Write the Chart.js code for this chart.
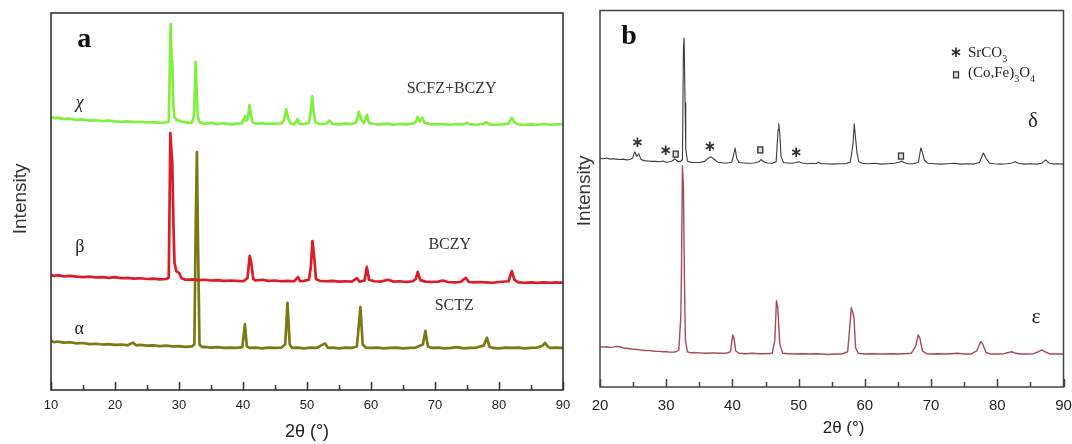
<!DOCTYPE html>
<html><head><meta charset="utf-8">
<script src="https://cdn.jsdelivr.net/npm/chart.js@4.4.0/dist/chart.umd.min.js"></script>
<style>
html,body{margin:0;padding:0;background:#fff;width:1072px;height:444px;overflow:hidden}
#ca{position:absolute;left:0;top:0}
#cb{position:absolute;left:570px;top:0}
</style></head><body>
<canvas id="ca" width="570" height="444"></canvas>
<canvas id="cb" width="502" height="444"></canvas>
<script>
// ---------- DATA (2θ in degrees, intensity in arbitrary offset units) ----------
const seriesNamesA = ['SCFZ+BCZY', 'BCZY', 'SCTZ'];
const seriesSymbolsA = ['χ', 'β', 'α'];
const seriesSymbolsB = ['δ', 'ε'];
const legendB = ['SrCO3', '(Co,Fe)3O4'];

const chiData = [[10,726],[10.5,722],[11,724],[12,720],[13,721],[14,718],[15,719],[16,716],[17,717],[18,715],[19,716],[20,714],[21,713],[22,714],[23,712],[24,713],[25,711],[26,712],[27,710],[28,711],[28.4,714],[28.7,971],[28.85,860],[28.95,873],[29.1,760],[29.3,725],[29.6,718],[30,716],[30.5,713],[31,712],[31.5,710],[32,711],[32.3,725],[32.45,781],[32.6,871],[32.75,800],[32.9,730],[33.2,712],[34,708],[35,710],[36,707],[37,709],[38,706],[39,708],[39.8,709],[40.2,722],[40.35,728],[40.5,715],[40.8,725],[41.0,757],[41.2,735],[41.5,712],[42,708],[43,709],[44,707],[45,708],[46,709],[46.4,716],[46.75,746],[47.1,720],[47.5,708],[48,706],[48.5,720],[48.8,707],[49.5,707],[50.3,710],[50.6,740],[50.8,780],[51.0,745],[51.3,712],[52,707],[53,708],[53.5,716],[54,707],[55,706],[56,708],[57,707],[57.7,712],[58.1,739],[58.5,718],[58.9,710],[59.35,731],[59.7,710],[60.5,707],[61.5,706],[62.5,708],[63.5,705],[64.5,707],[65.5,706],[66.5,708],[67.0,712],[67.3,726],[67.6,714],[68.0,724],[68.4,710],[69.5,706],[70.5,707],[71.5,706],[72.5,705],[73.5,707],[74.5,706],[75,710],[75.5,706],[76.5,705],[77.5,707],[78,712],[78.5,706],[79.5,705],[80.5,706],[81.5,708],[82,724],[82.4,712],[83,706],[84,705],[85,706],[86,705],[87,707],[88,705],[89,706],[90,707]];

const betaData = [[10,309],[10.5,306],[11,308],[12,305],[13,306],[14,304],[15,303],[16,304],[17,302],[18,303],[19,301],[20,303],[21,300],[22,301],[23,299],[24,300],[25,298],[26,299],[27,297],[28,298],[28.4,302],[28.65,683],[28.8,640],[28.95,604],[29.15,430],[29.3,340],[29.6,318],[30.0,314],[30.4,300],[31,296],[32,297],[33,295],[34,296],[35,294],[36,295],[37,293],[38,294],[39,293],[40,292],[40.7,300],[41.05,359],[41.3,340],[41.6,298],[42,294],[43,296],[44,293],[45,294],[46,292],[47,293],[48,292],[48.6,303],[48.9,292],[49.5,293],[50.3,296],[50.6,330],[50.85,398],[51.1,360],[51.4,298],[52,293],[53,292],[54,293],[55,291],[56,292],[57,291],[57.8,300],[58.2,291],[59,294],[59.35,330],[59.7,296],[60.5,292],[61.5,291],[62.7,296],[63.5,291],[64.5,292],[65.5,290],[66.5,292],[67.0,298],[67.3,317],[67.7,295],[68.5,291],[69.5,290],[70.5,291],[71.2,294],[72,290],[73,289],[74,290],[74.8,301],[75.3,290],[76,289],[77,290],[78,289],[79,288],[80,290],[81.5,292],[82,319],[82.4,296],[83,289],[84,288],[85,289],[86,288],[87,289],[88,288],[89,289],[90,288]];

const alphaData = [[10,135],[10.5,131],[11,133],[12,130],[13,131],[14,128],[15,129],[16,126],[17,127],[18,125],[19,126],[20,124],[21,125],[22,123],[22.8,130],[23.3,123],[24,124],[25,122],[26,123],[27,121],[28,122],[29,120],[30,121],[31,119],[32,120],[32.4,125],[32.6,420],[32.8,633],[32.95,420],[33.2,125],[33.6,118],[34,119],[35,117],[36,118],[37,116],[38,117],[39,116],[39.9,118],[40.3,179],[40.6,120],[41,116],[42,117],[43,115],[44,117],[45,116],[46,117],[46.6,125],[46.95,235],[47.3,125],[47.7,116],[48.5,117],[49.5,115],[50.5,117],[51.5,116],[52.8,128],[53.3,116],[54,117],[55,115],[56,117],[57,116],[57.8,120],[58.35,224],[58.7,125],[59.2,117],[60,116],[61,117],[62,115],[63,116],[64,117],[65,115],[66,116],[67,117],[68.1,125],[68.5,161],[68.9,120],[69.5,116],[70.5,117],[71.5,115],[72.5,116],[73.5,118],[74.5,115],[75.5,116],[76.5,117],[77.6,122],[78.1,143],[78.5,120],[79,116],[80,115],[81,117],[82,116],[83,117],[84,115],[85,116],[86,117],[86.8,122],[87.2,129],[87.6,120],[88,116],[89,117],[90,116]];

const deltaData = [[20,615],[20.5,614],[21,616],[21.5,613],[22,614],[22.5,613],[23,612],[23.5,613],[24,611],[24.5,612],[24.9,615],[25.25,632],[25.55,620],[25.85,627],[26.2,612],[26.7,609],[27.2,608],[27.8,607],[28.4,607],[29,606],[29.5,608],[30,605],[30.5,606],[30.9,608],[31.3,614],[31.7,607],[32.1,606],[32.45,612],[32.6,900],[32.7,930],[32.85,760],[32.95,640],[33.2,608],[33.6,605],[34.2,604],[35,604],[35.8,607],[36.4,616],[36.8,619],[37.3,612],[37.8,605],[38.5,603],[39.2,603],[39.9,605],[40.2,625],[40.4,642],[40.65,615],[41,604],[41.7,603],[42.5,602],[43.3,603],[44,606],[44.3,612],[44.7,606],[45.3,603],[46,602],[46.6,606],[46.9,690],[47.0,705],[47.15,681],[47.35,620],[47.7,604],[48.3,603],[49,602],[49.6,604],[50,606],[50.5,603],[51.3,601],[52,602],[52.6,601],[53,605],[53.4,601],[54.2,601],[55,600],[56,601],[57,601],[57.8,605],[58.2,650],[58.4,705],[58.55,676],[58.8,630],[59.1,606],[59.6,602],[60.5,601],[61.5,602],[62.5,600],[63.5,601],[64.5,602],[65.2,605],[65.5,608],[65.9,604],[66.5,601],[67.3,601],[68.1,605],[68.45,642],[68.7,630],[69,610],[69.5,602],[70.5,601],[71.5,600],[72.5,601],[73.5,602],[74.5,600],[75.5,601],[76.5,600],[77.3,604],[77.9,629],[78.3,615],[78.8,603],[79.5,601],[80.5,600],[81.5,601],[82.2,603],[82.7,606],[83.2,602],[84,600],[85,601],[86,600],[86.8,603],[87.3,611],[87.8,603],[88.5,600],[89.2,601],[90,600]];

const epsData = [[20,123],[20.5,122],[21,123],[21.5,121],[22,122],[22.5,124],[23,123],[23.5,120],[24,119],[24.5,118],[25,117],[25.5,116],[26,115],[26.5,114],[27,113],[27.5,113],[28,112],[28.5,111],[29,111],[29.5,110],[30,110],[30.5,109],[31,109],[31.5,110],[31.9,114],[32.2,200],[32.3,316],[32.45,595],[32.6,540],[32.75,300],[32.9,140],[33.2,110],[33.7,107],[34.2,108],[35,107],[36,106],[37,107],[38,106],[39,106],[39.7,110],[40.05,154],[40.2,148],[40.5,112],[41,106],[42,105],[43,106],[44,105],[45,105],[46,106],[46.4,140],[46.65,243],[46.85,225],[47.15,130],[47.6,106],[48.5,105],[49.5,104],[50.5,105],[51.5,104],[52.5,105],[53.5,104],[54.5,103],[55.5,104],[56.5,104],[57.4,110],[57.8,190],[57.95,225],[58.15,214],[58.35,200],[58.6,120],[59,106],[60,104],[61,105],[62,104],[63,104],[64,105],[65,104],[66,105],[67,106],[67.7,125],[68.05,154],[68.3,146],[68.7,112],[69.3,105],[70,104],[71,105],[72,104],[73,105],[74,106],[75,104],[76,104],[76.9,112],[77.5,137],[77.8,130],[78.3,108],[79,104],[80,104],[81,105],[81.7,108],[82.2,110],[82.8,106],[83.5,104],[84.5,104],[85.5,105],[86.2,110],[86.7,115],[87.2,110],[88,104],[89,104],[90,104]];

// phase markers in panel b: [2θ, height]
const srco3Marks = [[25.65,655],[29.92,634],[36.61,645],[49.65,629]];
const spinelMarks = [[31.43,626],[44.21,637],[65.46,621]];

// ---------- helpers ----------
const toXY = arr => arr.map(p => ({x: p[0], y: p[1]}));
const SANS = 'Liberation Sans';

function drawRich(ctx, parts, x, y) {
  let cx = x;
  parts.forEach(p => {
    ctx.font = p.font;
    ctx.textAlign = 'left';
    ctx.textBaseline = 'middle';
    ctx.fillText(p.t, cx, y + (p.dy || 0));
    cx += ctx.measureText(p.t).width;
  });
}

function decoPlugin(cfg) {
  return {
    id: 'deco',
    afterDatasetsDraw(chart) {
      const ctx = chart.ctx, a = chart.chartArea, xs = chart.scales.x, ys = chart.scales.y;
      ctx.save();
      ctx.strokeStyle = cfg.frameColor;
      ctx.lineWidth = cfg.tickWidth;
      xs.ticks.forEach(t => {
        const px = Math.round(xs.getPixelForValue(t.value)) + 0.5;
        const len = (t.value % 10 === 0) ? cfg.major : cfg.minor;
        ctx.beginPath(); ctx.moveTo(px, a.bottom); ctx.lineTo(px, a.bottom - len); ctx.stroke();
      });
      ctx.lineWidth = cfg.frameWidth;
      ctx.strokeRect(a.left, a.top, a.right - a.left, a.bottom - a.top);
      cfg.texts.forEach(t => {
        ctx.fillStyle = t.color || '#222';
        ctx.font = t.font;
        ctx.textAlign = 'center';
        ctx.textBaseline = 'middle';
        ctx.fillText(t.text, xs.getPixelForValue(t.x), ys.getPixelForValue(t.y));
      });
      (cfg.rich || []).forEach(r => {
        ctx.fillStyle = r.color || '#222';
        drawRich(ctx, r.parts, xs.getPixelForValue(r.x), ys.getPixelForValue(r.y));
      });
      (cfg.stars || []).forEach(s => {
        ctx.fillStyle = '#333';
        ctx.font = 'bold 15px "DejaVu Sans"';
        ctx.textAlign = 'center'; ctx.textBaseline = 'middle';
        ctx.fillText('∗', xs.getPixelForValue(s[0]), ys.getPixelForValue(s[1]));
      });
      (cfg.squares || []).forEach(s => {
        const px = xs.getPixelForValue(s[0]), py = ys.getPixelForValue(s[1]);
        ctx.fillStyle = '#ddd'; ctx.strokeStyle = '#333'; ctx.lineWidth = 1.3;
        ctx.fillRect(px - 2.5, py - 3, 5, 6);
        ctx.strokeRect(px - 2.5, py - 3, 5, 6);
      });
      ctx.restore();
    }
  };
}

function makeChart(id, o) {
  return new Chart(document.getElementById(id), {
    type: 'line',
    data: { datasets: o.datasets.map(d => ({
      data: toXY(d.data), borderColor: d.color, borderWidth: d.width,
      pointRadius: 0, tension: 0, fill: false, borderJoinStyle: 'round'
    })) },
    options: {
      responsive: false, animation: false, events: [],
      layout: { padding: o.padding },
      plugins: { legend: { display: false }, tooltip: { enabled: false } },
      scales: {
        x: {
          type: 'linear', min: o.xmin, max: 90,
          ticks: { stepSize: 5, autoSkip: false, maxRotation: 0, color: '#222',
                   font: { family: SANS, size: o.tickSize }, padding: o.tickPad,
                   callback: v => (v % 10 === 0 ? String(v) : '') },
          grid: { display: false, drawTicks: false },
          border: { display: false },
          title: { display: true, text: o.xTitle, color: '#222',
                   font: { family: SANS, size: o.xTitleSize }, padding: { top: 0, bottom: o.xTitlePad } },
          afterFit(s) { s.height = o.xHeight; s.paddingLeft = 0; s.paddingRight = 0; }
        },
        y: {
          min: o.ymin, max: o.ymax,
          ticks: { display: false },
          grid: { display: false, drawTicks: false },
          border: { display: false },
          title: { display: true, text: o.yTitle, color: '#333',
                   font: { family: SANS, size: 19 }, padding: { top: o.yTitlePad, bottom: 0 } },
          afterFit(s) { s.width = o.yWidth; s.paddingTop = 0; s.paddingBottom = 0; }
        }
      }
    },
    plugins: [decoPlugin(o.deco)]
  });
}

// ---------- panel a ----------
makeChart('ca', {
  xmin: 10, ymin: 5, ymax: 1000,
  padding: { left: 0, top: 13, right: 7, bottom: 0 },
  xHeight: 54, yWidth: 51, tickSize: 13, tickPad: 8, xTitle: '2θ (°)', xTitleSize: 18, xTitlePad: 1,
  yTitle: '\u00a0Intensity', yTitlePad: 9.5,
  datasets: [
    { data: chiData, color: '#80f03c', width: 2.7 },
    { data: betaData, color: '#dc1c26', width: 2.7 },
    { data: alphaData, color: '#7a7a14', width: 2.7 }
  ],
  deco: {
    frameColor: '#333', frameWidth: 1.6, tickWidth: 1.5, major: 8, minor: 5,
    texts: [
      { text: 'a', x: 15.2, y: 929, font: 'bold 28px "Liberation Serif"', color: '#111' },
      { text: seriesSymbolsA[0], x: 14.5, y: 762, font: 'italic 18px "Liberation Serif"' },
      { text: seriesSymbolsA[1], x: 14.5, y: 382, font: '18px "Liberation Serif"' },
      { text: seriesSymbolsA[2], x: 14.4, y: 166, font: '18px "Liberation Serif"' },
      { text: seriesNamesA[0], x: 72.6, y: 801, font: '16px "Liberation Serif"', color: '#333' },
      { text: seriesNamesA[1], x: 72.3, y: 388, font: '16px "Liberation Serif"', color: '#333' },
      { text: seriesNamesA[2], x: 73.0, y: 227, font: '16px "Liberation Serif"', color: '#333' }
    ]
  }
});

// ---------- panel b ----------
makeChart('cb', {
  xmin: 20, ymin: 18, ymax: 1001,
  padding: { left: 0, top: 10.5, right: 8.5, bottom: 0 },
  xHeight: 57, yWidth: 30, tickSize: 15, tickPad: 10,
  xTitle: '\u00a0\u00a0\u00a0\u00a0\u00a02θ (°)', xTitleSize: 17, xTitlePad: 5,
  yTitle: '\u00a0\u00a0\u00a0Intensity', yTitlePad: 3.5,
  datasets: [
    { data: deltaData, color: '#3a3a3a', width: 1.1 },
    { data: epsData, color: '#a84a58', width: 1.4 }
  ],
  deco: {
    frameColor: '#444', frameWidth: 1.5, tickWidth: 1.5, major: 8, minor: 5,
    texts: [
      { text: 'b', x: 24.4, y: 933, font: 'bold 28px "Liberation Serif"', color: '#111' },
      { text: seriesSymbolsB[0], x: 85.4, y: 710, font: '21px "Liberation Serif"' },
      { text: seriesSymbolsB[1], x: 85.85, y: 201, font: '22px "Liberation Serif"' }
    ],
    rich: [
      { x: 75.58, y: 890, parts: [
        { t: 'SrCO', font: '15px "Liberation Serif"' },
        { t: '3', font: '10px "Liberation Serif"', dy: 6 } ] },
      { x: 75.58, y: 838, parts: [
        { t: '(Co,Fe)', font: '15px "Liberation Serif"' },
        { t: '3', font: '10px "Liberation Serif"', dy: 6 },
        { t: 'O', font: '15px "Liberation Serif"' },
        { t: '4', font: '10px "Liberation Serif"', dy: 6 } ] }
    ],
    stars: srco3Marks.concat([[73.77, 890]]),
    squares: spinelMarks.concat([[73.77, 833]])
  }
});
</script>
</body></html>
